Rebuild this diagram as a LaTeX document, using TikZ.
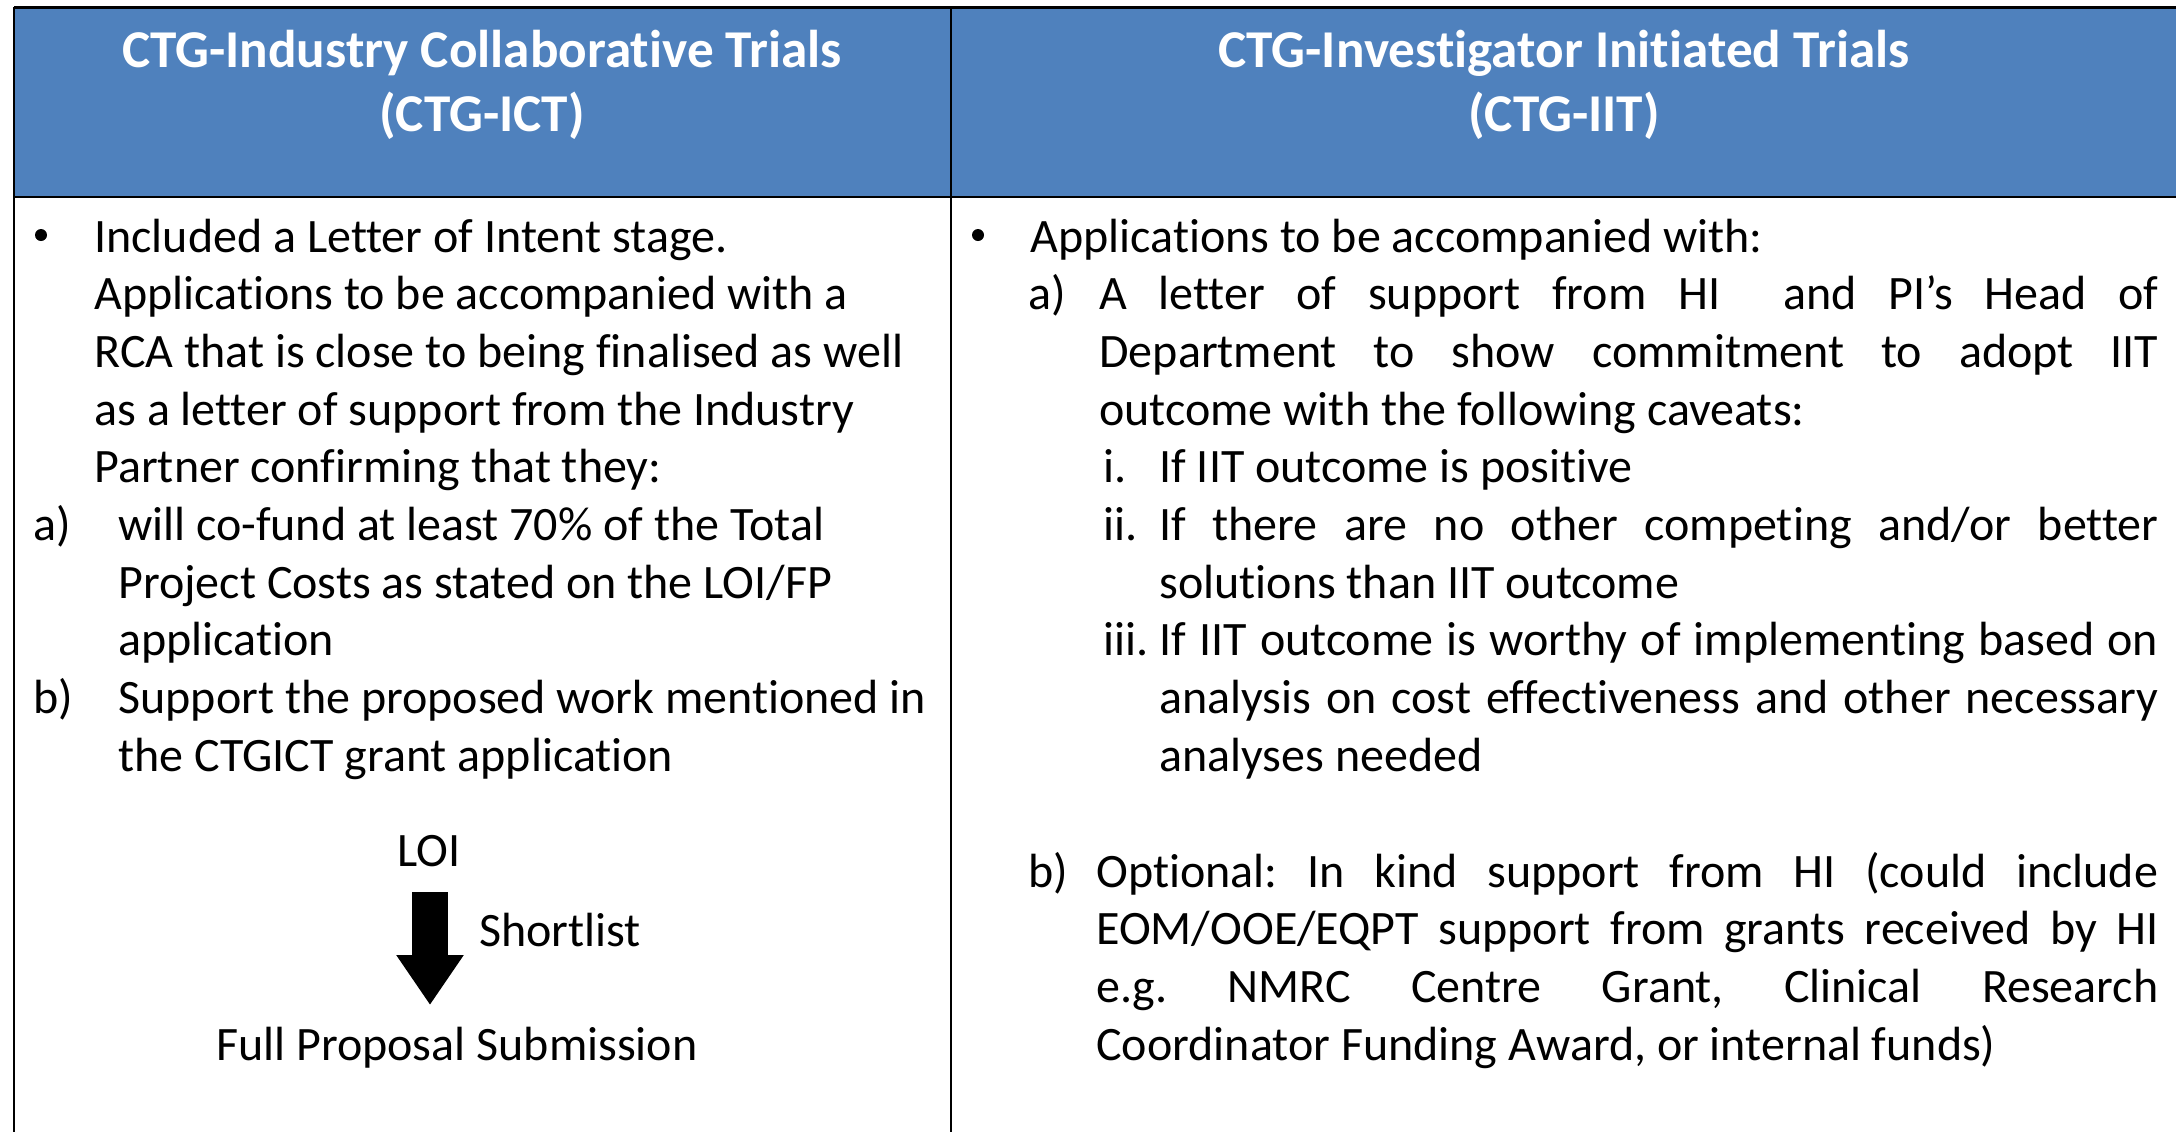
\documentclass[tikz,border=0pt]{standalone}
\usepackage{fontspec}
\setmainfont{Carlito}[Ligatures=NoCommon]
\usetikzlibrary{arrows.meta}
\definecolor{hdrblue}{RGB}{79,129,189}
\newcommand{\jline}[2]{\makebox[#1][s]{#2}}
\frenchspacing

\begin{document}
\begin{tikzpicture}[x=0.5pt, y=-0.5pt,
    hdr/.style={font=\fontsize{26.6}{32}\selectfont\bfseries, text=white, align=center, inner sep=0pt},
    txt/.style={font=\fontsize{24}{28.8}\selectfont, anchor=base west, inner sep=0pt},
    flow/.style={font=\fontsize{24}{28.8}\selectfont, anchor=base, inner sep=0pt},
    dot/.style={circle, fill=black, inner sep=0pt, minimum size=6pt},
    bigarrow/.style={line width=18pt, -{Triangle[width=32pt, length=25pt]}}]
    % Variables for the table
    \def\divX{951} % column divider
    \def\hdrBot{197} % bottom of header row
    \useasboundingbox (0,0) rectangle (2176,1132);

    % Header row
    \fill[hdrblue] (14,7) rectangle (2176,\hdrBot);
    \draw[line width=1.5pt] (14,7) -- (2176,7);
    \draw[line width=1.2pt] (14,\hdrBot) -- (2176,\hdrBot);
    \draw[line width=1pt] (14,7) -- (14,1132);
    \draw[line width=1pt] (\divX,7) -- (\divX,1132);

    \node[hdr] (ict) at (482,85) {CTG-Industry Collaborative Trials\\(CTG-ICT)};
    \node[hdr] (iit) at (1564,85) {CTG-Investigator Initiated Trials\\(CTG-IIT)};

    % Left column (CTG-ICT)
    \node[dot] (lb1) at (41,235) {};
    \node[txt] (l1) at (94,252) {Included a Letter of Intent stage.};
    \node[txt] (l2) at (94,309.7) {Applications to be accompanied with a};
    \node[txt] (l3) at (94,367.4) {RCA that is close to being finalised as well};
    \node[txt] (l4) at (94,425.1) {as a letter of support from the Industry};
    \node[txt] (l5) at (94,482.8) {Partner confirming that they:};
    \node[txt] (la) at (33,540.5) {a)};
    \node[txt] (l6) at (118,540.5) {will co-fund at least 70\% of the Total};
    \node[txt] (l7) at (118,598.2) {Project Costs as stated on the LOI/FP};
    \node[txt] (l8) at (118,655.9) {application};
    \node[txt] (lbb) at (33,713.6) {b)};
    \node[txt] (l9) at (118,713.6) {Support the proposed work mentioned in};
    \node[txt] (l10) at (118,771.3) {the CTGICT grant application};

    % LOI -> Full Proposal
    \node[flow] (loi) at (429,866) {LOI};
    \node[txt] (short) at (479,946) {Shortlist};
    \node[flow] (fps) at (457,1060) {Full Proposal Submission};
    \coordinate (atop) at (430,892);
    \coordinate (abot) at (430,1005);
    \draw[bigarrow] (atop) -- (abot);

    % Right column (CTG-IIT)
    \node[dot] (rb1) at (978,235) {};
    \node[txt] (r1) at (1030,252) {Applications to be accompanied with:};
    \node[txt] (ra) at (1028,309.7) {a)};
    \node[txt] (r2) at (1099,309.7) {\jline{529.5pt}{A letter of support from HI \ and PI’s Head of}};
    \node[txt] (r3) at (1099,367.4) {\jline{529.5pt}{Department to show commitment to adopt IIT}};
    \node[txt] (r4) at (1099,425.1) {outcome with the following caveats:};
    \node[txt] (ri) at (1103,482.8) {i.};
    \node[txt] (r5) at (1159,482.8) {If IIT outcome is positive};
    \node[txt] (rii) at (1103,540.5) {ii.};
    \node[txt] (r6) at (1159,540.5) {\jline{499.5pt}{If there are no other competing and/or better}};
    \node[txt] (r7) at (1159,598.2) {solutions than IIT outcome};
    \node[txt] (riii) at (1103,655.9) {iii.};
    \node[txt] (r8) at (1159,655.9) {\jline{499.5pt}{If IIT outcome is worthy of implementing based on}};
    \node[txt] (r9) at (1159,713.6) {\jline{499.5pt}{analysis on cost effectiveness and other necessary}};
    \node[txt] (r10) at (1159,771.3) {analyses needed};
    \node[txt] (rbb) at (1028,887) {b)};
    \node[txt] (r11) at (1096,887) {\jline{531pt}{Optional: In kind support from HI (could include}};
    \node[txt] (r12) at (1096,944.7) {\jline{531pt}{EOM/OOE/EQPT support from grants received by HI}};
    \node[txt] (r13) at (1096,1002.4) {\jline{531pt}{e.g. NMRC Centre Grant, Clinical Research}};
    \node[txt] (r14) at (1096,1060.1) {Coordinator Funding Award, or internal funds)};
\end{tikzpicture}
\end{document}
